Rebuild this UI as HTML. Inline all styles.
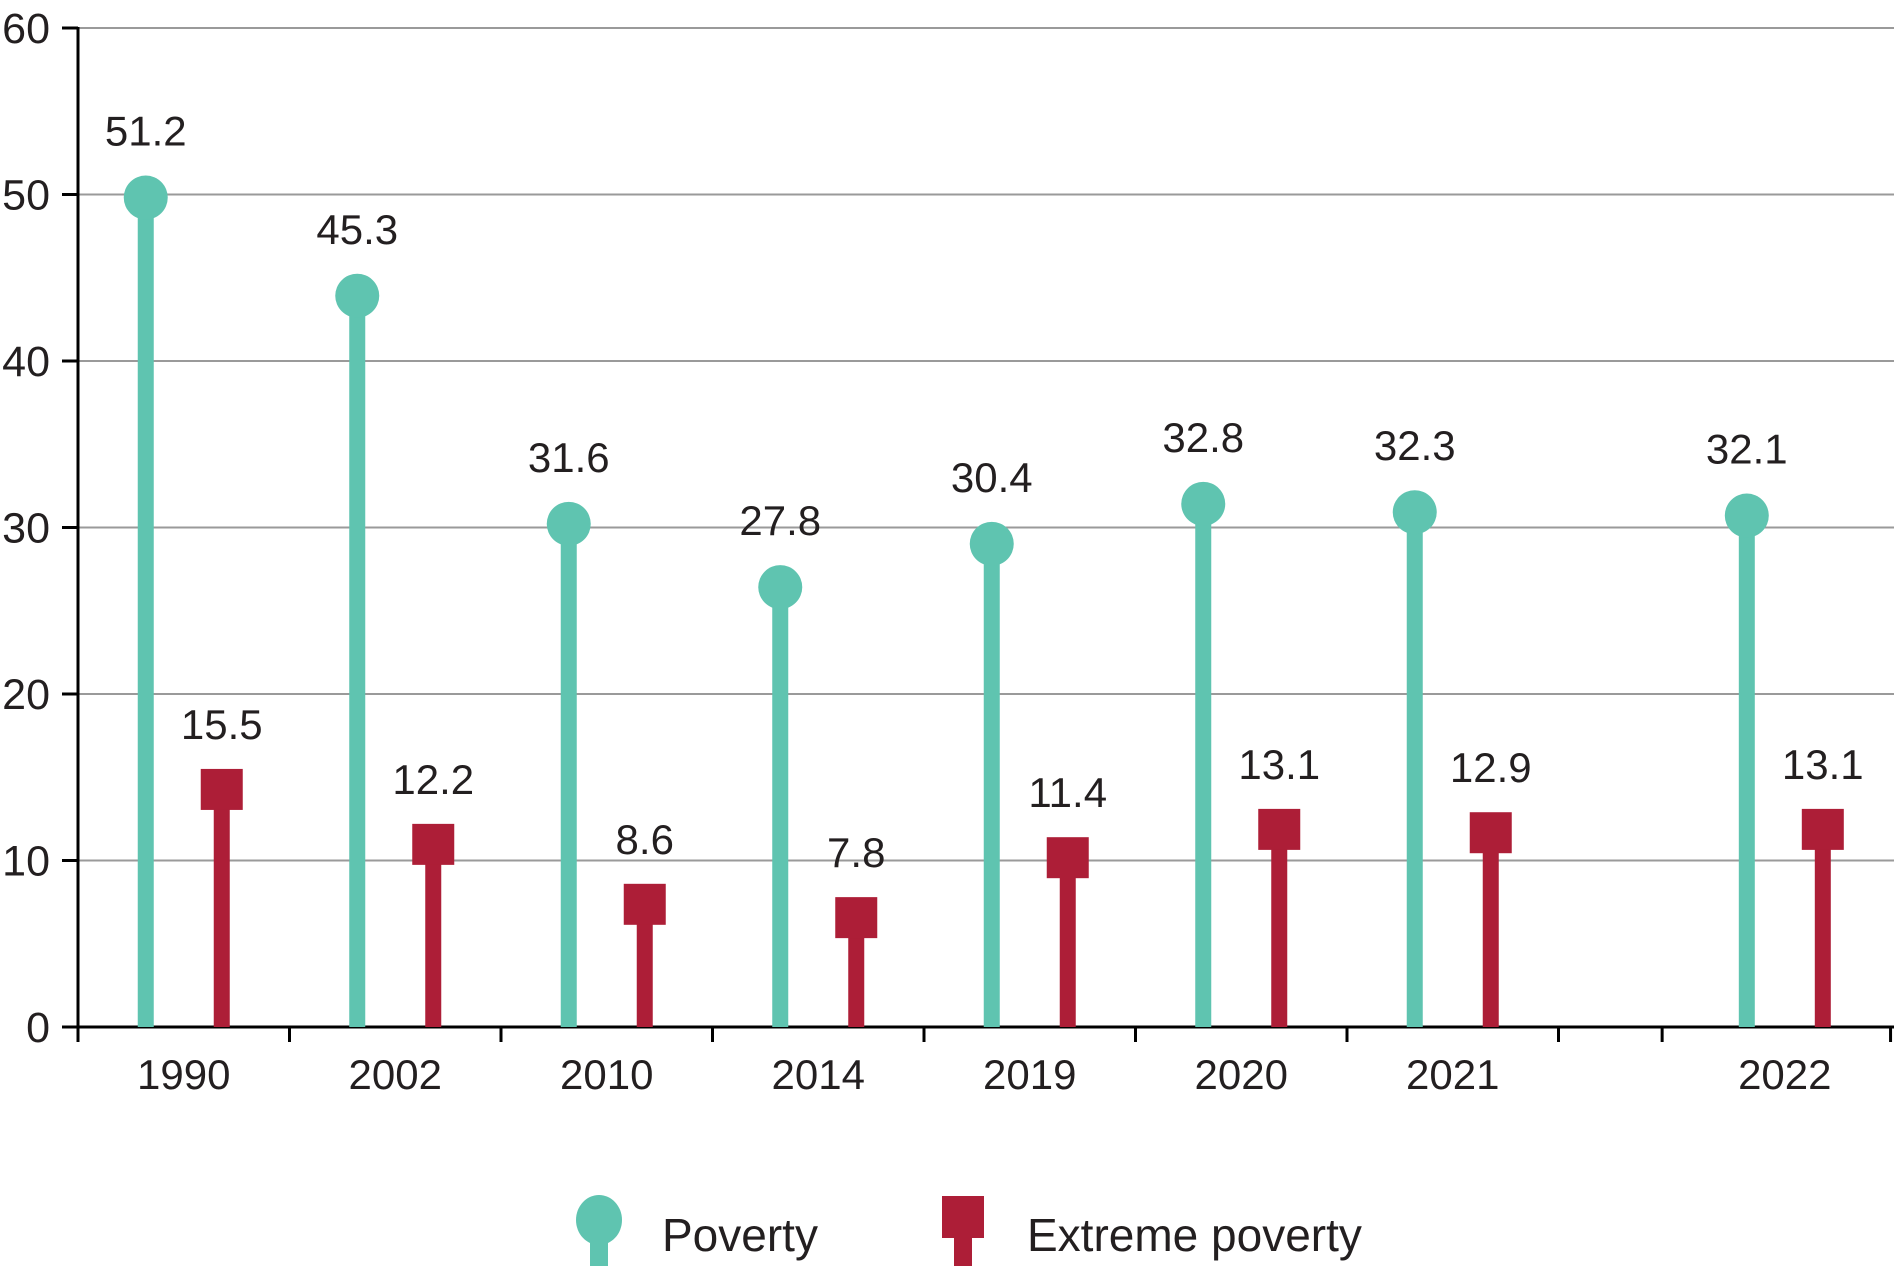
<!DOCTYPE html>
<html><head><meta charset="utf-8"><style>
body{margin:0;background:#fff;}
svg text{font-family:"Liberation Sans",sans-serif;fill:#231f20;}
</style></head><body>
<svg id="chart" width="1894" height="1271" xmlns="http://www.w3.org/2000/svg"></svg>
<script>
const years = ["1990","2002","2010","2014","2019","2020","2021","2022"];
const slots = [0,1,2,3,4,5,6,7.57];
const poverty = [51.2,45.3,31.6,27.8,30.4,32.8,32.3,32.1];
const extreme = [15.5,12.2,8.6,7.8,11.4,13.1,12.9,13.1];
const yTicks = [0,10,20,30,40,50,60];
const xTickSlots = [0,1,2,3,4,5,6,7,7.49,8.57];

const NS="http://www.w3.org/2000/svg";
const svg=document.getElementById('chart');
function el(t,a,p){const e=document.createElementNS(NS,t);for(const k in a)e.setAttribute(k,a[k]);(p||svg).appendChild(e);return e;}
const x0=78, slotW=211.5, y0=1027, yPer=16.65;
const y=v=>y0-v*yPer;
const xc=s=>x0+slotW*(s+0.5);
const xt=s=>x0+slotW*s;

yTicks.forEach(t=>{
  if(t>0){const g=el('line',{x1:x0,x2:1894,y1:y(t),y2:y(t),stroke:'#9a9a9a','stroke-width':2});
  
  }
  const tk=el('line',{x1:62,x2:x0,y1:y(t),y2:y(t),stroke:'#000','stroke-width':3});
  
  
  const tx=el('text',{x:50,y:y(t)+15,'text-anchor':'end','font-size':43});
  tx.textContent=t;
  
  
});
const ya=el('line',{x1:x0,x2:x0,y1:y(60)-1,y2:1042,stroke:'#000','stroke-width':3});


const xa=el('line',{x1:62,x2:1894,y1:y0,y2:y0,stroke:'#000','stroke-width':3});


xTickSlots.forEach((s,i)=>{
  const t=el('line',{x1:Math.min(xt(s),1892),x2:Math.min(xt(s),1892),y1:y0,y2:1042,stroke:'#000','stroke-width':3});
  
  
});

years.forEach((yr,i)=>{
  const c=xc(slots[i]);
  const px=c-38, ex=c+38;
  const pc=y(poverty[i])+23;
  const st=el('rect',{x:px-8,y:pc,width:16,height:y0-pc,fill:'#5fc4b0'});
  
  
  const ci=el('circle',{cx:px,cy:pc,r:22,fill:'#5fc4b0'});
  
  
  const pl=el('text',{x:px,y:pc-52,'text-anchor':'middle','font-size':42});
  pl.textContent=poverty[i].toFixed(1);
  
  

  const ec=y(extreme[i])+20;
  const es=el('rect',{x:ex-8,y:ec,width:16,height:y0-ec,fill:'#ad1e37'});
  
  
  const sq=el('rect',{x:ex-21,y:ec-20,width:42,height:41,fill:'#ad1e37'});
  
  
  const el2=el('text',{x:ex,y:ec-50,'text-anchor':'middle','font-size':42});
  el2.textContent=extreme[i].toFixed(1);
  
  

  const xl=el('text',{x:c,y:1089,'text-anchor':'middle','font-size':42});
  xl.textContent=yr;
  
  
});

// legend
const lg=el('g',{});


const l1=el('g',{},lg);


el('rect',{x:590,y:1220,width:18,height:46,fill:'#5fc4b0'},l1);
el('ellipse',{cx:599,cy:1220,rx:23,ry:25,fill:'#5fc4b0'},l1);
const t1=el('text',{x:662,y:1251,'font-size':46},l1);t1.textContent='Poverty';
const l2=el('g',{},lg);


el('rect',{x:954,y:1220,width:18,height:46,fill:'#ad1e37'},l2);
el('rect',{x:942,y:1196,width:42,height:42,fill:'#ad1e37'},l2);
const t2=el('text',{x:1027,y:1251,'font-size':46},l2);t2.textContent='Extreme poverty';
</script>
</body></html>
